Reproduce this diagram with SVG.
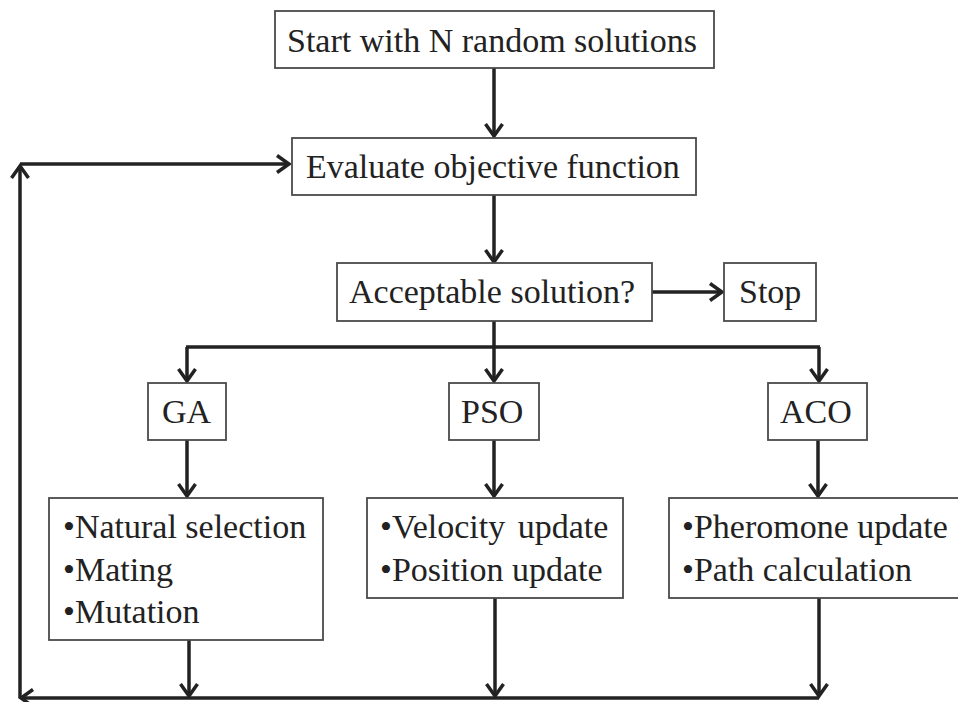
<svg xmlns="http://www.w3.org/2000/svg" width="958" height="702" viewBox="0 0 958 702">
<style>
.box{fill:#fff;stroke:#4a4a4a;stroke-width:1.8}
.t{font-family:'Liberation Serif','Times New Roman',serif;font-size:34px;fill:#222}
.c{fill:none;stroke:#222;stroke-width:3.5}
</style>
<defs>
<marker id="ah" markerUnits="userSpaceOnUse" viewBox="-15 -11 18 22" markerWidth="18" markerHeight="22" refX="0" refY="0" orient="auto">
<path d="M-12,-8.5 L0,0 L-12,8.5" fill="none" stroke="#222" stroke-width="3.5" stroke-linejoin="miter"/>
</marker>
</defs>
<rect width="958" height="702" fill="#fff"/>
<g id="connectors">
<path class="c" d="M494,68 V136" marker-end="url(#ah)"/>
<path class="c" d="M494,195 V262" marker-end="url(#ah)"/>
<path class="c" d="M652,292 H722" marker-end="url(#ah)"/>
<path class="c" d="M494,321 V347"/>
<path class="c" d="M186,347 H820"/>
<path class="c" d="M187,347 V381" marker-end="url(#ah)"/>
<path class="c" d="M494,347 V381" marker-end="url(#ah)"/>
<path class="c" d="M819,347 V381" marker-end="url(#ah)"/>
<path class="c" d="M187,440 V496" marker-end="url(#ah)"/>
<path class="c" d="M494,440 V496" marker-end="url(#ah)"/>
<path class="c" d="M818,440 V496" marker-end="url(#ah)"/>
<path class="c" d="M189,640 V696" marker-end="url(#ah)"/>
<path class="c" d="M495,598 V696" marker-end="url(#ah)"/>
<path class="c" d="M819,598 V696" marker-end="url(#ah)"/>
<path class="c" d="M819,698 H21" marker-end="url(#ah)"/>
<path class="c" d="M20,698 V166" marker-end="url(#ah)"/>
<path class="c" d="M20,164 H289" marker-end="url(#ah)"/>
</g>
<g id="start">
<rect class="box" x="275" y="11" width="439" height="57"/>
<text class="t" x="287" y="52">Start with N random solutions</text>
</g>
<g id="evaluate">
<rect class="box" x="292" y="138" width="404" height="57"/>
<text class="t" x="306" y="178">Evaluate objective function</text>
</g>
<g id="acceptable">
<rect class="box" x="337" y="263" width="315" height="58"/>
<text class="t" x="349" y="303">Acceptable solution?</text>
</g>
<g id="stop">
<rect class="box" x="724" y="263" width="92" height="58"/>
<text class="t" x="739" y="303">Stop</text>
</g>
<g id="ga">
<rect class="box" x="148" y="383" width="78" height="57"/>
<text class="t" x="162" y="423">GA</text>
</g>
<g id="pso">
<rect class="box" x="449" y="383" width="90" height="57"/>
<text class="t" x="461" y="423">PSO</text>
</g>
<g id="aco">
<rect class="box" x="768" y="383" width="99" height="57"/>
<text class="t" x="780" y="423">ACO</text>
</g>
<g id="ga-steps">
<rect class="box" x="49" y="498" width="274" height="142"/>
<text class="t" x="63" y="538">•Natural selection</text>
<text class="t" x="63" y="581">•Mating</text>
<text class="t" x="63" y="623">•Mutation</text>
</g>
<g id="pso-steps">
<rect class="box" x="367" y="498" width="256" height="100"/>
<text class="t" x="380" y="538" word-spacing="4">•Velocity update</text>
<text class="t" x="380" y="581">•Position update</text>
</g>
<g id="aco-steps">
<rect class="box" x="669" y="498" width="300" height="100"/>
<text class="t" x="682" y="538">•Pheromone update</text>
<text class="t" x="682" y="581">•Path calculation</text>
</g>
</svg>
